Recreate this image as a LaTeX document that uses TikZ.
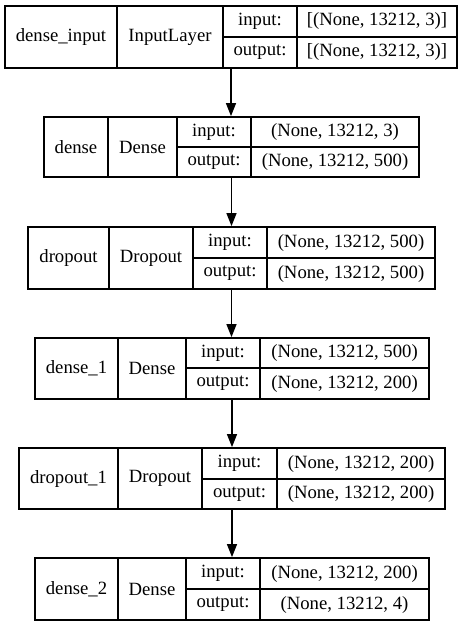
\documentclass[tikz,border=0pt]{standalone}
\usepackage{fontspec}
\setmainfont{Liberation Serif}
\usetikzlibrary{arrows.meta, fit}

\tikzstyle{cell} = [draw=black, line width=1.3pt, inner sep=0pt,
font=\rmfamily\fontsize{18.7}{22}\selectfont]
\tikzstyle{arrow} = [line width=1.3pt, -{Triangle[length=13pt, width=10pt]}]

% one cell of a layer record: name, x0, y0, x1, y1, text
\newcommand{\kcell}[6]{%
  \node[cell, minimum width={(#4)-(#2)}, minimum height={(#5)-(#3)}]
    (#1) at ({((#2)+(#4))/2}, {((#3)+(#5))/2}) {#6};}

\begin{document}
\begin{tikzpicture}[x=1pt, y=-1pt,
        record/.style={inner sep=0pt},
    ]
    \useasboundingbox (0,0) rectangle (464,627);

    % 1. dense_input
    \kcell{inName}{5}{6}{117}{68}{dense\_input}
    \kcell{inClass}{117}{6}{223}{68}{InputLayer}
    \kcell{inIn}{223}{6}{297}{37}{input:}
    \kcell{inInVal}{297}{6}{457}{37}{[(None, 13212, 3)]}
    \kcell{inOut}{223}{37}{297}{68}{output:}
    \kcell{inOutVal}{297}{37}{457}{68}{[(None, 13212, 3)]}
    \node[record, fit=(inName)(inOutVal)] (inputLayer) {};

    % 2. dense
    \kcell{dName}{44}{117}{108}{177}{dense}
    \kcell{dClass}{108}{117}{177}{177}{Dense}
    \kcell{dIn}{177}{117}{251}{147}{input:}
    \kcell{dInVal}{251}{117}{419}{147}{(None, 13212, 3)}
    \kcell{dOut}{177}{147}{251}{177}{output:}
    \kcell{dOutVal}{251}{147}{419}{177}{(None, 13212, 500)}
    \node[record, fit=(dName)(dOutVal)] (dense) {};

    % 3. dropout
    \kcell{doName}{28}{227}{109}{289}{dropout}
    \kcell{doClass}{109}{227}{193}{289}{Dropout}
    \kcell{doIn}{193}{227}{267}{258}{input:}
    \kcell{doInVal}{267}{227}{435}{258}{(None, 13212, 500)}
    \kcell{doOut}{193}{258}{267}{289}{output:}
    \kcell{doOutVal}{267}{258}{435}{289}{(None, 13212, 500)}
    \node[record, fit=(doName)(doOutVal)] (dropout) {};

    % 4. dense_1
    \kcell{dbName}{35}{338}{118}{399}{dense\_1}
    \kcell{dbClass}{118}{338}{186}{399}{Dense}
    \kcell{dbIn}{186}{338}{260}{368}{input:}
    \kcell{dbInVal}{260}{338}{429}{368}{(None, 13212, 500)}
    \kcell{dbOut}{186}{368}{260}{399}{output:}
    \kcell{dbOutVal}{260}{368}{429}{399}{(None, 13212, 200)}
    \node[record, fit=(dbName)(dbOutVal)] (denseA) {};

    % 5. dropout_1
    \kcell{dobName}{19}{448}{118}{509}{dropout\_1}
    \kcell{dobClass}{118}{448}{202}{509}{Dropout}
    \kcell{dobIn}{202}{448}{277}{479}{input:}
    \kcell{dobInVal}{277}{448}{445}{479}{(None, 13212, 200)}
    \kcell{dobOut}{202}{479}{277}{509}{output:}
    \kcell{dobOutVal}{277}{479}{445}{509}{(None, 13212, 200)}
    \node[record, fit=(dobName)(dobOutVal)] (dropoutA) {};

    % 6. dense_2
    \kcell{dcName}{35}{558}{118}{620}{dense\_2}
    \kcell{dcClass}{118}{558}{186}{620}{Dense}
    \kcell{dcIn}{186}{558}{260}{589}{input:}
    \kcell{dcInVal}{260}{558}{429}{589}{(None, 13212, 200)}
    \kcell{dcOut}{186}{589}{260}{620}{output:}
    \kcell{dcOutVal}{260}{589}{429}{620}{(None, 13212, 4)}
    \node[record, fit=(dcName)(dcOutVal)] (denseB) {};

    % flechas entre capas
    \draw[arrow] (inputLayer.south) -- (inputLayer.south |- dense.north);
    \draw[arrow] (dense.south) -- (dense.south |- dropout.north);
    \draw[arrow] (dropout.south) -- (dropout.south |- denseA.north);
    \draw[arrow] (denseA.south) -- (denseA.south |- dropoutA.north);
    \draw[arrow] (dropoutA.south) -- (dropoutA.south |- denseB.north);
\end{tikzpicture}
\end{document}
